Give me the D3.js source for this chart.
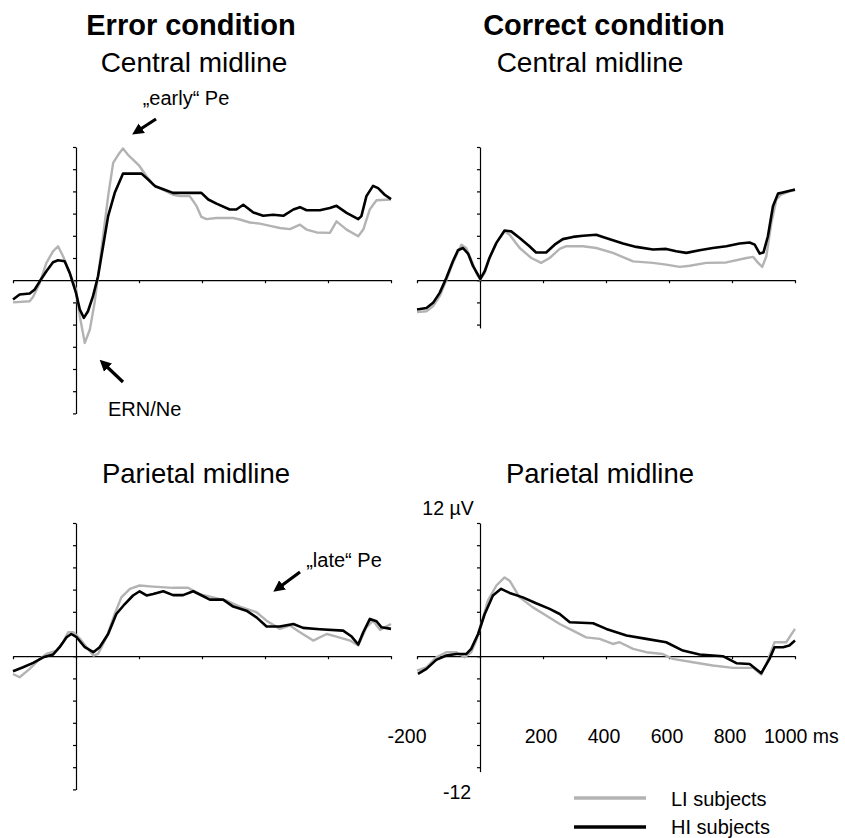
<!DOCTYPE html>
<html>
<head>
<meta charset="utf-8">
<script src="https://cdn.jsdelivr.net/npm/d3@7"></script>
<style>
	body { margin: 0; background: #fff; }
	svg text { font-family: "Liberation Sans", Arial, sans-serif; fill: #000; }
</style>
</head>
<body>
<svg id="chart" width="845" height="838"></svg>
<script>
// error condition, central midline
const ecLiMs = [-200,-147,-136,-115,-94,-73,-57,-41,-20,0,12,28,44,59,70,86,102,118,134,149,165,181,202,224,245,266,287,308,330,361,383,398,414,446,499,520,552,584,616,647,679,711,732,764,806,827,859,896,912,933,954,1000];
const ecLiUv = [-2.0,-1.9,-1.5,-0.24,1.56,2.6,3.06,2.16,0.66,-0.84,-3.24,-5.65,-4.44,-2.04,0.36,3.96,7.57,10.57,11.3,11.86,11.3,10.87,10.27,9.37,8.6,8.3,8.0,7.7,7.57,7.57,6.67,5.7,5.5,5.6,5.6,5.47,5.2,5.1,4.9,4.7,4.6,5.0,4.56,4.3,4.26,5.3,4.56,3.96,4.56,6.4,7.2,7.27];
const ecHiMs = [-200,-179,-147,-131,-115,-94,-73,-57,-36,-20,0,12,25,38,54,70,86,102,123,149,181,208,229,251,277,308,351,398,420,446,488,509,531,563,594,626,658,690,711,732,774,806,827,859,896,906,922,943,959,980,1000];
const ecHiUv = [-1.74,-1.29,-1.2,-0.84,-0.1,0.81,1.62,1.8,1.7,0.66,-1.14,-2.64,-3.39,-2.8,-1.44,0.36,3.06,5.77,7.87,9.6,9.6,9.6,9.07,8.47,8.2,7.87,7.87,7.87,7.27,6.9,6.37,6.37,6.8,6.1,5.8,5.9,5.8,6.37,6.58,6.3,6.3,6.5,6.7,6.07,5.5,5.77,7.57,8.5,8.3,7.7,7.3];

// correct condition, central midline
const ccLiMs = [-200,-170,-149,-128,-107,-86,-59,-44,-28,-12,1,15,30,52,78,94,126,163,194,221,253,274,327,369,422,486,549,591,634,666,718,782,846,867,883,896,909,925,941,956,982,1000];
const ccLiUv = [-2.88,-2.8,-2.34,-1.44,0,1.56,3.2,2.9,1.86,0.66,0.06,0.66,2.0,3.36,4.4,4.1,2.9,2.0,1.56,2.0,2.82,3.06,3.06,2.9,2.46,1.7,1.56,1.4,1.2,1.3,1.56,1.6,2.0,2.1,1.56,1.2,2.16,5.16,7.27,7.72,8.0,8.1];
const ccHiMs = [-200,-170,-149,-128,-107,-86,-70,-54,-38,-22,1,15,30,52,78,99,126,157,178,210,237,263,295,327,369,390,422,454,496,549,591,623,655,697,739,782,824,856,872,888,900,914,930,946,961,1000];
const ccHiUv = [-2.64,-2.5,-2.04,-1.14,0.2,1.7,2.7,2.9,2.4,1.26,0.12,0.81,2.0,3.36,4.47,4.4,3.8,3.06,2.5,2.5,3.2,3.7,3.9,4.0,4.1,3.9,3.6,3.3,3.0,2.76,2.82,2.6,2.46,2.7,2.9,3.06,3.3,3.4,3.2,2.4,2.5,3.96,6.67,7.8,7.9,8.17];

// error condition, parietal midline
const epLiMs = [-200,-179,-147,-115,-94,-62,-41,-25,-8,13,34,55,70,97,123,144,171,202,245,308,356,393,435,478,520,573,605,647,679,711,753,796,827,870,896,922,943,965,1000];
const epLiUv = [-1.6,-1.9,-1.14,-0.24,0.21,0.51,1.26,2.16,2.16,1.56,0.81,0.06,0.21,1.71,3.8,5.3,6.07,6.37,6.27,6.16,6.16,5.6,5.3,5.0,4.47,3.96,3.2,2.46,2.76,2.16,1.41,2.0,1.77,1.41,0.96,2.6,3.2,2.37,2.9];
const epHiMs = [-200,-168,-136,-104,-73,-52,-30,-15,2,28,55,75,102,128,155,181,202,224,245,277,308,340,372,393,425,467,499,541,573,605,647,690,721,774,848,875,896,912,933,954,970,1000];
const epHiUv = [-1.35,-1.0,-0.6,-0.1,0.15,0.81,1.71,2.0,1.71,0.81,0.36,0.81,2.0,3.8,4.7,5.47,5.85,5.47,5.6,5.85,5.5,5.5,5.85,5.56,5.1,5.1,4.47,4.1,3.5,2.67,2.67,2.9,2.55,2.43,2.3,1.77,1.05,2.16,3.36,3.15,2.6,2.46];

// correct condition, parietal midline
const cpLiMs = [-200,-170,-139,-107,-75,-49,-28,-12,4,25,52,78,94,126,168,210,253,295,337,380,422,443,486,528,580,612,676,739,803,867,893,909,935,972,1000];
const cpLiUv = [-1.3,-1.0,-0.1,0.36,0.36,-0.1,0.36,1.41,2.9,5.0,6.37,7.1,6.8,5.3,4.4,3.66,2.9,2.3,1.7,1.56,1.1,1.26,0.66,0.36,0.2,-0.24,-0.54,-0.84,-1.05,-1.05,-1.65,-0.7,1.26,1.26,2.46];
const cpHiMs = [-197,-170,-139,-107,-75,-43,-28,-6,15,41,67,94,136,178,221,253,285,359,401,465,528,591,644,697,771,814,856,893,919,935,962,982,1000];
const cpHiUv = [-1.6,-1.14,-0.33,0.06,0.2,0.2,0.66,2.0,3.8,5.47,6.07,5.7,5.3,4.77,4.26,3.8,3.06,2.97,2.46,1.86,1.56,1.26,0.51,0.15,0,-0.63,-0.7,-1.53,-0.24,0.81,0.81,0.96,1.41];

const timeTicks = [-200, 0, 200, 400, 600, 800, 1000];
const uvTicks = [-12, -10, -8, -6, -4, -2, 0, 2, 4, 6, 8, 10, 12];
const timeLabels = ['-200', '200', '400', '600', '800'];
const seriesNames = ['LI subjects', 'HI subjects'];
const seriesColors = ['#b3b3b3', '#000'];

const PXUV = 11.1;

let svg = d3.select('#chart');

function panel(left, top, yMin, li, hi) {
	let x = d3.scaleLinear().domain([-200, 1000]).range([left, left + 378]);
	let y = d3.scaleLinear().domain([yMin, 12]).range([top + (12 - yMin) * PXUV, top]);

	let xAxis = d3.axisBottom(x).tickValues(timeTicks).tickSize(3).tickSizeOuter(0).tickFormat('');
	let yAxis = d3.axisLeft(y).tickValues(uvTicks.filter(v => v >= yMin)).tickSize(3).tickSizeOuter(0).tickFormat('');

	svg.append('g')
		.attr('transform', `translate(0,${y(0)})`)
		.call(xAxis);
	svg.append('g')
		.attr('transform', `translate(${x(0)},0)`)
		.call(yAxis);
	svg.selectAll('.domain, .tick line').attr('stroke', '#000').attr('stroke-width', 1.2);

	let line = d3.line().x(d => x(d[0])).y(d => y(d[1]));
	[li, hi].forEach((s, i) => {
		svg.append('path')
			.datum(d3.zip(s[0], s[1]))
			.attr('fill', 'none')
			.attr('stroke', seriesColors[i])
			.attr('stroke-width', i ? 2.6 : 2.4)
			.attr('stroke-linejoin', 'round')
			.attr('d', line);
	});
	return { x, y };
}

function text(x, y, str, size, opts = {}) {
	return svg.append('text')
		.attr('x', x).attr('y', y)
		.attr('font-size', size)
		.attr('font-weight', opts.bold ? 'bold' : 'normal')
		.attr('text-anchor', opts.anchor || 'middle')
		.text(str);
}

function arrow(x1, y1, x2, y2) {
	svg.append('line')
		.attr('x1', x1).attr('y1', y1).attr('x2', x2).attr('y2', y2)
		.attr('stroke', '#000').attr('stroke-width', 3.2)
		.attr('marker-end', 'url(#head)');
}

svg.append('defs').append('marker')
	.attr('id', 'head')
	.attr('viewBox', '0 0 10 10')
	.attr('refX', 6).attr('refY', 5)
	.attr('markerWidth', 3.6).attr('markerHeight', 3.6)
	.attr('orient', 'auto')
	.append('path').attr('d', 'M0,0L10,5L0,10z').attr('fill', '#000');

panel(13, 147, -12, [ecLiMs, ecLiUv], [ecHiMs, ecHiUv]);
panel(417, 147, -4.3, [ccLiMs, ccLiUv], [ccHiMs, ccHiUv]);
panel(13, 523, -12, [epLiMs, epLiUv], [epHiMs, epHiUv]);
let br = panel(417, 523, -10.4, [cpLiMs, cpLiUv], [cpHiMs, cpHiUv]);

// titles
text(191, 35, 'Error condition', 29, { bold: true });
text(604, 35, 'Correct condition', 29, { bold: true });
text(194, 72, 'Central midline', 28);
text(590, 72, 'Central midline', 28);
text(196, 483, 'Parietal midline', 27.5);
text(600, 483, 'Parietal midline', 27.5);

// annotations
text(186, 105, '\u201Eearly\u201C Pe', 20);
arrow(156, 119, 136, 132);
text(108, 416, 'ERN/Ne', 20, { anchor: 'start' });
arrow(123, 382, 103, 363);
text(344, 567, '\u201Elate\u201C Pe', 20);
arrow(300, 572, 277, 589);

// axis labels on the last panel
text(448, 515, '12 \u00B5V', 19.5);
text(457, 799, '-12', 19.5);
timeLabels.forEach(t => {
	text(br.x(+t) + (t === '-200' ? -10 : -2), 743, t, 19.5);
});
text(br.x(1000) - 31, 743, '1000 ms', 19.5, { anchor: 'start' });

// legend
seriesNames.forEach((n, i) => {
	svg.append('line')
		.attr('x1', 574).attr('x2', 646)
		.attr('y1', 798 + i * 29).attr('y2', 798 + i * 29)
		.attr('stroke', seriesColors[i]).attr('stroke-width', 3.4);
	text(671, 806 + i * 28, n, 20, { anchor: 'start' });
});
</script>
</body>
</html>
